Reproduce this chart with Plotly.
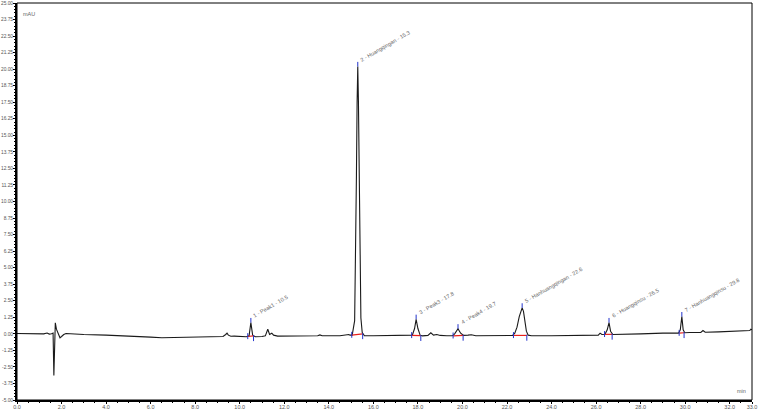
import plotly.graph_objects as go

# Chromatogram signal (time in min, signal in mAU)
time_min = [0.0, 0.8, 1.2, 1.35, 1.45, 1.55, 1.62, 1.655, 1.685, 1.72, 1.77, 1.84, 1.93, 2.0, 2.1, 2.2,
            2.4, 3.0, 4.0, 5.0, 6.0, 6.5, 7.0, 8.0, 9.0, 9.25, 9.37, 9.43, 9.49, 9.6, 9.75, 10.0,
            10.3, 10.42, 10.5, 10.58, 10.7, 11.0, 11.15, 11.26, 11.34, 11.44, 11.52, 11.7, 12.0, 13.0,
            13.5, 13.6, 13.7, 14.5, 14.9, 14.95, 15.05, 15.16, 15.20, 15.24, 15.27, 15.30, 15.33, 15.36,
            15.40, 15.44, 15.50, 15.6, 16.0, 17.0, 17.6, 17.75, 17.85, 17.92, 18.0, 18.1, 18.2, 18.45,
            18.58, 18.7, 18.85, 19.0, 19.3, 19.55, 19.65, 19.8, 19.92, 20.05, 20.25, 20.4, 20.6, 21.0,
            21.5, 22.0, 22.25, 22.35, 22.45, 22.55, 22.63, 22.68, 22.74, 22.8, 22.87, 22.95, 23.1, 24.0,
            25.0, 25.8, 26.1, 26.18, 26.26, 26.4, 26.5, 26.58, 26.65, 26.75, 27.0, 28.0, 29.0, 29.7,
            29.78, 29.85, 29.91, 29.98, 30.2, 30.7, 30.8, 30.9, 31.5, 32.0, 32.5, 32.9, 32.95, 33.0]
signal_mau = [0.02, 0.02, 0.0, 0.06, -0.02, 0.0, 0.05, -3.15, 0.2, 0.83, 0.35, 0.05, -0.3, -0.2, -0.05, 0.02,
              0.0, -0.05, -0.1, -0.15, -0.25, -0.3, -0.28, -0.2, -0.18, -0.2, -0.05, 0.05, -0.1, -0.18, -0.17, -0.2,
              -0.22, -0.15, 0.85, -0.1, -0.22, -0.2, -0.15, 0.35, -0.05, 0.05, -0.1, -0.17, -0.17, -0.17,
              -0.15, -0.08, -0.15, -0.15, -0.05, -0.1, -0.1, 1.0, 5.0, 12.0, 17.5, 20.2, 17.5, 12.0,
              5.0, 1.2, 0.1, -0.15, -0.15, -0.15, -0.15, -0.1, 0.4, 1.1, 0.4, -0.1, -0.15, -0.12,
              0.08, -0.1, -0.05, -0.12, -0.15, -0.15, 0.0, 0.38, 0.05, -0.12, -0.1, -0.07, -0.15, -0.15,
              -0.12, -0.12, -0.12, 0.05, 0.5, 1.3, 1.85, 1.96, 1.7, 0.9, 0.2, -0.1, -0.15, -0.15,
              -0.12, -0.1, -0.1, 0.05, -0.05, -0.03, 0.3, 0.85, 0.2, -0.05, -0.03, 0.0, 0.05, 0.05,
              0.3, 1.3, 0.3, 0.08, 0.1, 0.1, 0.25, 0.12, 0.15, 0.2, 0.22, 0.25, 0.35, 0.3]

# Integrated peaks
peak_labels = ["1 - Peak1 - 10.5", "2 - Huangqingan - 15.3", "3 - Peak3 - 17.8", "4 - Peak4 - 19.7",
               "5 - Hanhuangqingan - 22.6", "6 - Huangqinsu - 26.5", "7 - Hanhuangqinsu - 29.8"]
peak_apex_t = [10.5, 15.3, 17.92, 19.8, 22.68, 26.58, 29.85]
peak_apex_v = [0.85, 20.2, 1.1, 0.38, 1.96, 0.85, 1.3]
peak_start_t = [10.36, 15.03, 17.72, 19.58, 22.29, 26.38, 29.73]
peak_start_v = [-0.2, -0.1, -0.12, -0.15, -0.12, -0.04, 0.05]
peak_end_t = [10.62, 15.52, 18.13, 20.03, 22.89, 26.72, 29.95]
peak_end_v = [-0.15, 0.0, -0.14, -0.12, -0.12, -0.04, 0.08]

x_ticks = [0.0, 2.0, 4.0, 6.0, 8.0, 10.0, 12.0, 14.0, 16.0, 18.0, 20.0, 22.0, 24.0, 26.0, 28.0, 30.0, 32.0, 33.0]
y_ticks = [-5.0 + 1.25 * i for i in range(25)]

fig = go.Figure()

fig.add_trace(go.Scatter(x=time_min, y=signal_mau, mode="lines",
                         line=dict(color="#1a1a1a", width=1.1), hoverinfo="skip", showlegend=False))

# red baselines of integrated peaks
bx, by = [], []
for s, sv, e, ev in zip(peak_start_t, peak_start_v, peak_end_t, peak_end_v):
    bx += [s, e, None]
    by += [sv, ev, None]
fig.add_trace(go.Scatter(x=bx, y=by, mode="lines", line=dict(color="#e8201a", width=1.2),
                         hoverinfo="skip", showlegend=False))

# blue start/end ticks and apex ticks
tx, ty = [], []
for s, sv, e, ev in zip(peak_start_t, peak_start_v, peak_end_t, peak_end_v):
    tx += [s, s, None, e, e, None]
    ty += [sv + 0.25, sv - 0.2, None, ev + 0.05, ev - 0.4, None]
for a, av in zip(peak_apex_t, peak_apex_v):
    tx += [a, a, None]
    ty += [av, av + 0.35, None]
fig.add_trace(go.Scatter(x=tx, y=ty, mode="lines", line=dict(color="#2233cc", width=1),
                         hoverinfo="skip", showlegend=False))

for lab, a, av in zip(peak_labels, peak_apex_t, peak_apex_v):
    fig.add_annotation(x=a, y=av, text=lab, showarrow=False, textangle=-30,
                       xanchor="left", yanchor="bottom", xshift=-1, yshift=1,
                       font=dict(size=5.5, color="#666666", family="Liberation Sans"))

fig.add_annotation(x=0.006, y=0.985, xref="paper", yref="paper", text="mAU", showarrow=False,
                   xanchor="left", yanchor="top", font=dict(size=5.5, color="#666666", family="Liberation Sans"))
fig.add_annotation(x=0.995, y=0.01, xref="paper", yref="paper", text="min", showarrow=False,
                   xanchor="right", yanchor="bottom", font=dict(size=5.5, color="#666666", family="Liberation Sans"))

fig.add_shape(type="rect", xref="paper", yref="paper", x0=0, y0=0, x1=1, y1=1,
              line=dict(color="#000000", width=1))

fig.update_xaxes(range=[0, 33], tickvals=x_ticks, ticktext=[f"{v:.1f}" for v in x_ticks],
                 showline=True, linecolor="#000000", linewidth=2, ticks="outside", ticklen=2,
                 tickcolor="#000000", tickwidth=1, showgrid=False, zeroline=False, automargin=False,
                 ticklabelstandoff=-2,
                 minor=dict(tickvals=[i * 0.5 for i in range(67)], ticks="outside", ticklen=1, tickcolor="#000000"),
                 tickfont=dict(size=5.5, color="#555555", family="Liberation Sans"))
fig.update_yaxes(range=[-5, 25], tickvals=y_ticks, ticktext=[f"{v:.2f}" for v in y_ticks],
                 showline=True, linecolor="#000000", linewidth=2, ticks="outside", ticklen=2,
                 tickcolor="#000000", tickwidth=1, showgrid=False, zeroline=False, automargin=False,
                 ticklabelstandoff=-1,
                 minor=dict(dtick=0.25, ticks="outside", ticklen=1, tickcolor="#000000"),
                 tickfont=dict(size=4.8, color="#555555", family="Liberation Sans"))

fig.update_layout(width=759, height=410, margin=dict(l=17, r=7, t=3, b=10),
                  paper_bgcolor="white", plot_bgcolor="white", showlegend=False)

fig.write_html("out.html", config={"displayModeBar": False},
               post_script="document.body.style.margin='0';document.body.style.overflow='hidden';")
